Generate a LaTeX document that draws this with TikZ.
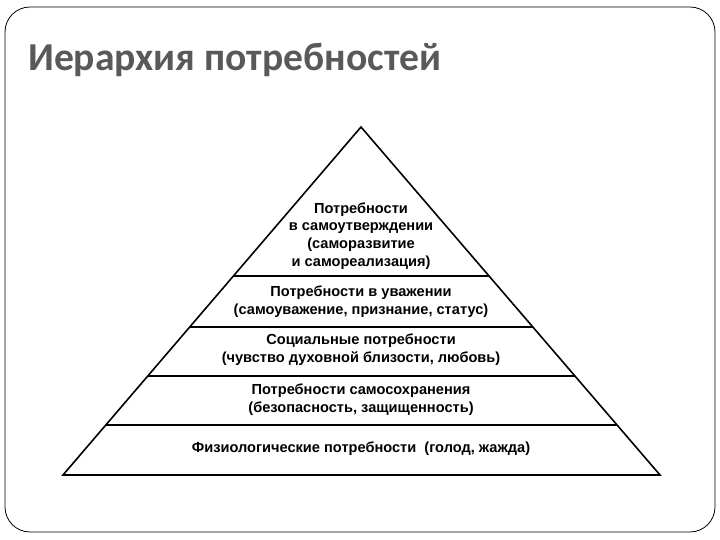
\documentclass[tikz,border=0pt]{standalone}
\usepackage{fontspec}
\setmainfont{Liberation Sans}
\newfontfamily\titlefont{Carlito}
\usetikzlibrary{calc}
\definecolor{titlegray}{RGB}{89,89,89}

\begin{document}
\begin{tikzpicture}[x=1pt,y=1pt]
	\tikzstyle{tier}=[align=center,font=\bfseries\fontsize{14.6}{17.8}\selectfont,inner sep=0pt]
	\tikzstyle{divide}=[line width=2pt]
	\useasboundingbox (0,0) rectangle (720,540);

	\draw[rounded corners=25pt,line width=0.8pt] (5,8) rectangle (715,533);
	\node[anchor=base west,inner sep=0pt,text=titlegray,font=\titlefont\bfseries\fontsize{39.6}{44}\selectfont](title) at (28,469) {Иерархия потребностей};

	\coordinate (apex) at (361,413);
	\coordinate (bl) at (63,65);
	\coordinate (br) at (660,65);
	\draw[line width=1.6pt,line join=miter] (apex) -- (bl) -- (br) -- cycle;
	\foreach \f in {0.428,0.575,0.716,0.856}{
		\draw[divide] ($(apex)!\f!(bl)$) -- ($(apex)!\f!(br)$);
	}

	\node[tier](selfact) at (361,304) {Потребности\\в самоутверждении\\(саморазвитие\\и самореализация)};
	\node[tier](esteem) at (361,238) {Потребности в уважении\\(самоуважение, признание, статус)};
	\node[tier](social) at (361,190) {Социальные потребности\\(чувство духовной близости, любовь)};
	\node[tier](safety) at (361,140) {Потребности самосохранения\\(безопасность, защищенность)};
	\node[tier](physio) at (361,91) {Физиологические потребности\ \ (голод, жажда)};
\end{tikzpicture}
\end{document}
